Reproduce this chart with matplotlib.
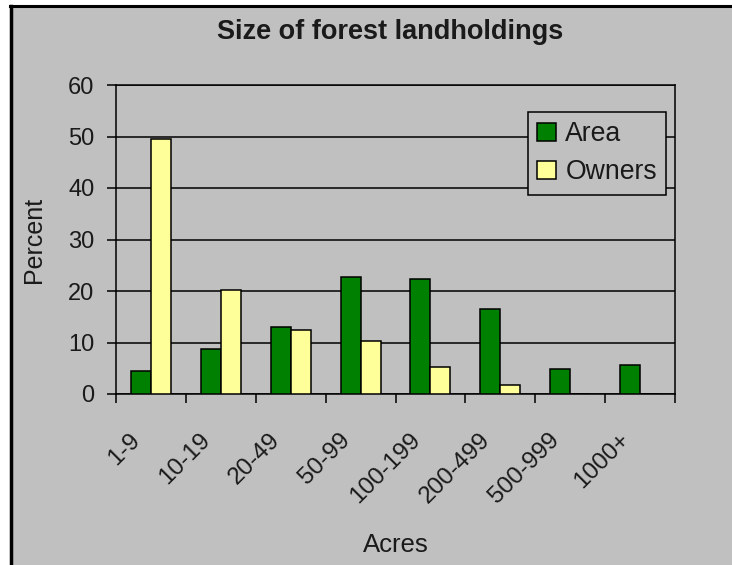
import matplotlib
matplotlib.use("Agg")
import matplotlib.pyplot as plt
from matplotlib.patches import Rectangle
from matplotlib.lines import Line2D
import matplotlib.transforms as mtransforms
import numpy as np

categories = ["1-9", "10-19", "20-49", "50-99", "100-199", "200-499", "500-999", "1000+"]
area = [4.5, 8.7, 13.0, 22.7, 22.3, 16.6, 4.9, 5.6]
owners = [49.5, 20.1, 12.4, 10.2, 5.2, 1.7, 0.0, 0.0]
y_ticks = [0, 10, 20, 30, 40, 50, 60]

BG = "#C0C0C0"
GREEN = "#008000"
YELLOW = "#FFFF99"

plt.rcParams["font.family"] = ["Liberation Sans", "DejaVu Sans"]

W, H = 732, 565
fig = plt.figure(figsize=(W / 100, H / 100), dpi=100, facecolor="white")

# chart background panel with its black border on the top and left
fig.patches.append(Rectangle((11 / W, 0), 1 - 11 / W, 1 - 6 / H, transform=fig.transFigure,
                             facecolor=BG, edgecolor="none", zorder=-10))
fig.lines.append(Line2D([10 / W, 1], [1 - 6 / H, 1 - 6 / H], transform=fig.transFigure,
                        color="black", lw=2.2, zorder=-5))
fig.lines.append(Line2D([10.5 / W, 10.5 / W], [0, 1 - 6 / H], transform=fig.transFigure,
                        color="black", lw=2.5, zorder=-5))

left, right, top, bottom = 116, 675, 85, 394
ax = fig.add_axes([left / W, 1 - bottom / H, (right - left) / W, (bottom - top) / H])
ax.set_facecolor(BG)

x = np.arange(len(categories))
bw = 1 / 3.5
ax.bar(x - bw / 2, area, bw, color=GREEN, edgecolor="black", linewidth=1.1, label="Area", zorder=3)
ax.bar(x + bw / 2, owners, bw, color=YELLOW, edgecolor="black", linewidth=1.1, label="Owners", zorder=3)

ax.set_xlim(-0.5, len(categories) - 0.5)
ax.set_ylim(0, 60)
ax.set_yticks(y_ticks)
ax.yaxis.grid(True, color="black", linewidth=1.1, zorder=1)
ax.set_axisbelow(True)

for s in ax.spines.values():
    s.set_color("black")
    s.set_linewidth(1.1)

ax.set_xticks(np.arange(-0.5, len(categories)), labels=[""] * (len(categories) + 1))
ax.set_xticks(x, minor=True)
ax.set_xticklabels(categories, minor=True, rotation=45, ha="right", va="top",
                   rotation_mode="default", fontsize=17.5, color="#1a1a1a")
ax.tick_params(axis="x", which="major", direction="out", length=6.5, width=1.1, color="black")
ax.tick_params(axis="x", which="minor", length=0, pad=20)
ax.tick_params(axis="y", direction="out", length=6.5, width=1.1, color="black",
               labelsize=17, pad=9, labelcolor="#1a1a1a")

# nudge the slanted category labels a little left and down
shift = mtransforms.ScaledTranslation(-6 / 100, -7 / 100, fig.dpi_scale_trans)
for lbl in ax.get_xticklabels(minor=True):
    lbl.set_transform(lbl.get_transform() + shift)

ax.set_ylabel("Percent", fontsize=18, color="#1a1a1a", labelpad=16)
ax.set_xlabel("Acres", fontsize=18.5, color="#1a1a1a", labelpad=18)

fig.text(390 / W, 1 - 32 / H, "Size of forest landholdings", ha="center", va="center",
         fontsize=19.5, fontweight="bold", color="#1a1a1a")

leg = ax.legend(loc="upper left", bbox_to_anchor=((528 - left) / (right - left), 1 - (112 - top) / (bottom - top)),
                fontsize=19.2, frameon=True, fancybox=False, framealpha=1, facecolor=BG,
                edgecolor="black", borderpad=0.35, labelspacing=0.45, handlelength=0.7,
                handleheight=0.7, handletextpad=0.35, borderaxespad=0)
leg.get_frame().set_linewidth(1.1)
for t in leg.get_texts():
    t.set_color("#1a1a1a")

fig.savefig("out.png", dpi=100, facecolor="white")
